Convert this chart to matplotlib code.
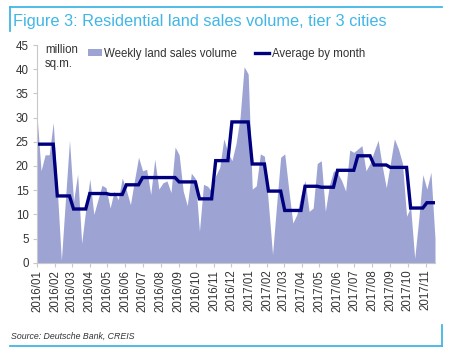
import matplotlib
matplotlib.use("Agg")
import matplotlib.pyplot as plt
import matplotlib.dates as mdates
from matplotlib.patches import Patch
from matplotlib.lines import Line2D
import pandas as pd

plt.rcParams['font.family'] = ['Liberation Sans', 'DejaVu Sans']

# Weekly land sales volume (million sq.m.), weeks starting 2016-01-01
weekly = [30.5, 19, 22.3, 22.3, 29, 15, 0.5, 13, 25.3, 12.7,
          18.3, 4, 11, 17.3, 10, 13, 16, 15.5, 11.3, 14.8,
          13, 17.5, 15, 12, 17, 21.8, 19, 19.3, 14.1, 21.4,
          15.2, 16.5, 16.9, 14.5, 23.9, 22.3, 14.8, 11.8, 18.5, 17.4,
          6.5, 16.2, 15.8, 14.8, 18, 19.7, 25.6, 22.8, 21.1, 24.6,
          30, 40.5, 39, 15.2, 15.9, 22.5, 22, 12, 1.7, 12,
          21.8, 22.5, 15, 8.2, 10, 14, 17, 10.6, 11.3, 20.5,
          21.1, 10.6, 16, 19, 18.5, 17, 14.8, 23.3, 22.8, 23.5,
          24.2, 19, 20.5, 23, 25.3, 20, 15.5, 20.5, 25.6, 23.5,
          20.5, 9.6, 11.5, 0.9, 9, 18.2, 15.2, 18.7, 5]

# Average by month
months = ['2016/01', '2016/02', '2016/03', '2016/04', '2016/05', '2016/06',
          '2016/07', '2016/08', '2016/09', '2016/10', '2016/11', '2016/12',
          '2017/01', '2017/02', '2017/03', '2017/04', '2017/05', '2017/06',
          '2017/07', '2017/08', '2017/09', '2017/10', '2017/11']
monthly_avg = [24.5, 13.8, 11.1, 14.3, 14.1, 16.1, 17.6, 17.6, 16.7, 13.2,
               21.1, 29.1, 20.4, 14.8, 10.8, 15.8, 15.6, 19.1, 22.1, 20.2,
               19.7, 11.3, 12.4]

dates = pd.date_range('2016-01-01', periods=len(weekly), freq='7D')
avg_map = dict(zip(months, monthly_avg))
avg_line = [avg_map[d.strftime('%Y/%m')] for d in dates]

area_color = '#9da3d3'
line_color = '#00007f'
blue = '#41b6e6'
gray = '#c8c8c8'

fig = plt.figure(figsize=(4.49, 3.62), dpi=100)
W, H = 449, 362
ax = fig.add_axes([37 / W, 1 - 262.7 / H, (435 - 37) / W, (262.7 - 45) / H])

ax.fill_between(dates, weekly, 0, color=area_color, linewidth=0)
ax.plot(dates, avg_line, color=line_color, linewidth=2.4, solid_joinstyle='miter')

ax.set_xlim(dates[0], dates[-1])
ax.set_ylim(0, 45)
ax.set_yticks(range(0, 46, 5))
ax.xaxis.set_major_locator(mdates.MonthLocator())
ax.xaxis.set_major_formatter(mdates.DateFormatter('%Y/%m'))
ax.tick_params(axis='x', labelrotation=90, labelsize=8.3, colors='#333333',
               length=3, color=gray, pad=2)
ax.tick_params(axis='y', labelsize=8.3, colors='#333333', length=3,
               color=gray, pad=3)
for s in ['top', 'right']:
    ax.spines[s].set_visible(False)
for s in ['left', 'bottom']:
    ax.spines[s].set_color(gray)
    ax.spines[s].set_linewidth(0.8)

ax.text(0.02, 1.005, 'million\nsq.m.', transform=ax.transAxes, va='top',
        ha='left', fontsize=8.3, color='#333333', linespacing=1.2)

handles = [Patch(facecolor=area_color, edgecolor='none'),
           Line2D([0], [0], color=line_color, linewidth=2.4)]
ax.legend(handles, ['Weekly land sales volume', 'Average by month'],
          loc='upper left', bbox_to_anchor=(0.102, 1.035), ncol=2,
          frameon=False, fontsize=8.3, handlelength=1.2, handleheight=0.6,
          handletextpad=0.2, columnspacing=1.6, labelcolor='#333333')

# Title and frame lines
fig.text(13 / W, 1 - 21.5 / H, 'Figure 3: Residential land sales volume, tier 3 cities',
         color=blue, fontsize=11.8, va='center', ha='left')
fig.add_artist(Line2D([9.5 / W, 442 / W], [1 - 7 / H, 1 - 7 / H], color=blue, linewidth=1.3))
fig.add_artist(Line2D([9.5 / W, 9.5 / W], [1 - 7 / H, 1 - 31 / H], color=blue, linewidth=1.3))

fig.text(11 / W, 1 - 336 / H, 'Source: Deutsche Bank, CREIS', fontsize=6.3,
         style='italic', color='#333333', va='center', ha='left')
fig.add_artist(Line2D([9.5 / W, 442 / W], [1 - 346 / H, 1 - 346 / H], color=blue, linewidth=1.3))
fig.add_artist(Line2D([442 / W, 442 / W], [1 - 325 / H, 1 - 346 / H], color=blue, linewidth=1.3))

fig.savefig('out.png', dpi=100)
